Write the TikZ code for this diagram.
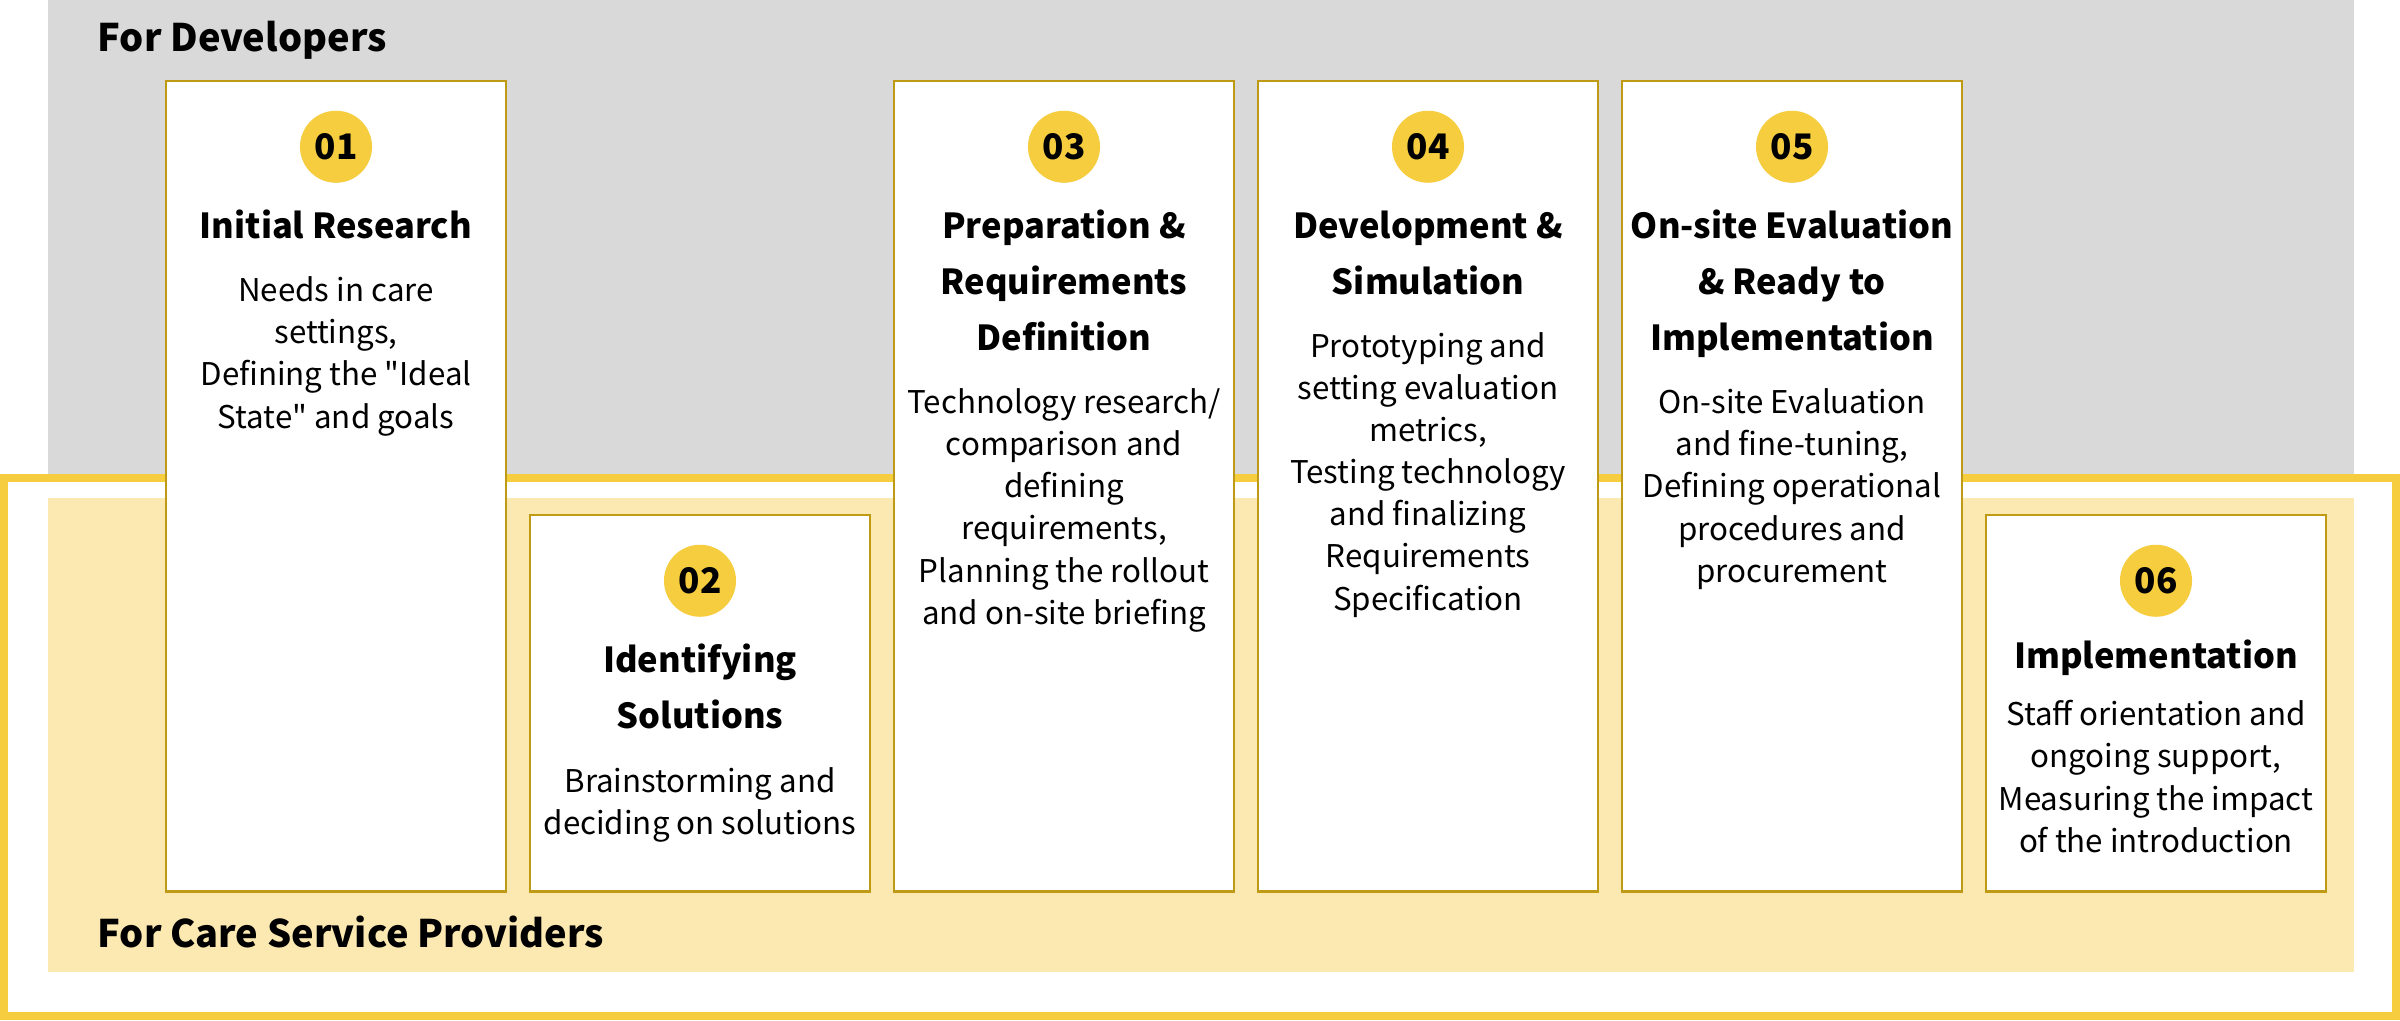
\documentclass[tikz,border=0pt]{standalone}
\usepackage{fontspec}
\setmainfont{Noto Sans CJK JP}[Ligatures=TeXOff]
\usepackage{tikz}
\usetikzlibrary{positioning,calc}

\definecolor{devgray}{HTML}{D9D9D9}
\definecolor{careyellow}{HTML}{F5CD3F}
\definecolor{carelight}{HTML}{FCE9B2}
\definecolor{cardline}{HTML}{BF9A14}

\tikzset{
  card/.style={draw=cardline, line width=0.7pt, fill=white, minimum width=3.4cm, anchor=north, inner sep=0pt},
  badge/.style={circle, fill=careyellow, minimum size=0.72cm, inner sep=0pt, font=\fontsize{10}{12}\selectfont\bfseries},
  cardtitle/.style={align=center, anchor=base, inner sep=0pt, font=\fontsize{9.8}{15.8}\selectfont\bfseries},
  carddesc/.style={align=center, anchor=base, inner sep=0pt, font=\fontsize{8.9}{11.95}\selectfont},
  grouplabel/.style={anchor=base west, inner sep=0pt, font=\fontsize{10.8}{13}\selectfont\bfseries}
}

\begin{document}
\begin{tikzpicture}[x=0.01cm,y=-0.01cm]
	\useasboundingbox (0,0) rectangle (2400,1020);
	% the two groups
	\fill[devgray] (48,0) rectangle (2354,474);
	\draw[careyellow, line width=0.08cm] (4,478) rectangle (2396,1016);
	\fill[carelight] (48,498) rectangle (2354,972);
	\node[grouplabel] (dev) at (97,51) {For Developers};
	\node[grouplabel] (care) at (97,947) {For Care Service Providers};

	% 01 (anchor base = last line)
	\node[card, minimum height=8.1cm] (b1) at (336,80) {};
	\node[badge, below=0.3cm of b1.north] (n1) {01};
	\node[cardtitle] (t1) at ($(b1.north)+(0,158)$) {Initial Research};
	\node[carddesc] (d1) at ($(t1.base)+(0,190)$) {Needs in care\\settings,\\Defining the "Ideal\\State" and goals};

	% 02
	\node[card, minimum height=3.76cm] (b2) at (700,514) {};
	\node[badge, below=0.3cm of b2.north] (n2) {02};
	\node[cardtitle] (t2) at ($(b2.north)+(0,214)$) {Identifying\\Solutions};
	\node[carddesc] (d2) at ($(t2.base)+(0,106)$) {Brainstorming and\\deciding on solutions};

	% 03
	\node[card, minimum height=8.1cm] (b3) at (1064,80) {};
	\node[badge, below=0.3cm of b3.north] (n3) {03};
	\node[cardtitle] (t3) at ($(b3.north)+(0,270)$) {Preparation \&\\Requirements\\Definition};
	\node[carddesc] (d3) at ($(t3.base)+(0,274)$) {Technology research/\\comparison and\\defining\\requirements,\\Planning the rollout\\and on-site briefing};

	% 04
	\node[card, minimum height=8.1cm] (b4) at (1428,80) {};
	\node[badge, below=0.3cm of b4.north] (n4) {04};
	\node[cardtitle] (t4) at ($(b4.north)+(0,214)$) {Development \&\\Simulation};
	\node[carddesc] (d4) at ($(t4.base)+(0,316)$) {Prototyping and\\setting evaluation\\metrics,\\Testing technology\\and finalizing\\Requirements\\Specification};

	% 05
	\node[card, minimum height=8.1cm] (b5) at (1792,80) {};
	\node[badge, below=0.3cm of b5.north] (n5) {05};
	\node[cardtitle] (t5) at ($(b5.north)+(0,270)$) {On-site Evaluation\\\& Ready to\\Implementation};
	\node[carddesc] (d5) at ($(t5.base)+(0,232)$) {On-site Evaluation\\and fine-tuning,\\Defining operational\\procedures and\\procurement};

	% 06
	\node[card, minimum height=3.76cm] (b6) at (2156,514) {};
	\node[badge, below=0.3cm of b6.north] (n6) {06};
	\node[cardtitle] (t6) at ($(b6.north)+(0,154)$) {Implementation};
	\node[carddesc] (d6) at ($(t6.base)+(0,184)$) {Staff orientation and\\ongoing support,\\Measuring the impact\\of the introduction};
\end{tikzpicture}
\end{document}
